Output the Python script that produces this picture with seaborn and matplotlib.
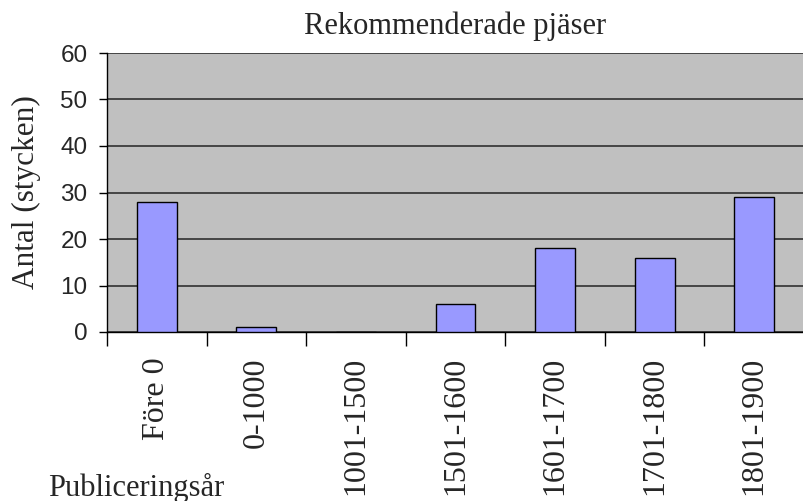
import matplotlib
matplotlib.use("Agg")
import matplotlib.pyplot as plt
import seaborn as sns
import pandas as pd

periods = ["Före 0", "0-1000", "1001-1500", "1501-1600", "1601-1700", "1701-1800", "1801-1900"]
counts = [28, 1, 0, 6, 18, 16, 29]

df = pd.DataFrame({"Period": periods, "Antal": counts})

sns.set_theme(style="white")
plt.rcParams['font.family'] = ['Liberation Serif', 'DejaVu Serif']

fig = plt.figure(figsize=(8.04, 5.01), dpi=100)
ax = fig.add_axes([107 / 804, 1 - 332 / 501, 697 / 804, (332 - 53) / 501])
ax.set_facecolor('#C0C0C0')

sns.barplot(data=df, x="Period", y="Antal", color='#9999FF', edgecolor='black',
            linewidth=1, width=0.4, saturation=1, ax=ax, zorder=3)

ax.set_xlim(-0.5, 6.5)
ax.set_ylim(0, 60)
ax.set_yticks(range(0, 61, 10))
ax.yaxis.grid(True, color='#303030', linewidth=1.2, zorder=0)
ax.set_axisbelow(True)

for s in ['top', 'right']:
    ax.spines[s].set_visible(False)
for s in ['left', 'bottom']:
    ax.spines[s].set_color('black')
    ax.spines[s].set_linewidth(1)

# category boundary ticks
ax.set_xticks([i - 0.5 for i in range(8)], minor=True)
ax.tick_params(axis='x', which='minor', length=10, width=1, color='black', direction='out', bottom=True)
ax.tick_params(axis='x', which='major', length=0, pad=18)
ax.tick_params(axis='y', length=6, width=1, color='black', direction='out', left=True, pad=8)

ax.set_xticks(range(len(periods)))
ax.set_xticklabels(periods, rotation=90, fontsize=23, family='Liberation Serif',
                   va='top', ha='center')
for lbl in ax.get_yticklabels():
    lbl.set_family('Liberation Sans')
    lbl.set_fontsize(17.5)

ax.set_xlabel("")
ax.set_ylabel("Antal (stycken)", fontsize=22.5, family='Liberation Serif')
ax.yaxis.set_label_coords(-0.095, 0.5)
ax.set_title("Rekommenderade pjäser", fontsize=22, family='Liberation Serif', pad=14)

fig.text(48 / 804, 1 - 496 / 501, "Publiceringsår", fontsize=22,
         family='Liberation Serif', va='baseline', ha='left')

fig.savefig("out.png", dpi=100)
